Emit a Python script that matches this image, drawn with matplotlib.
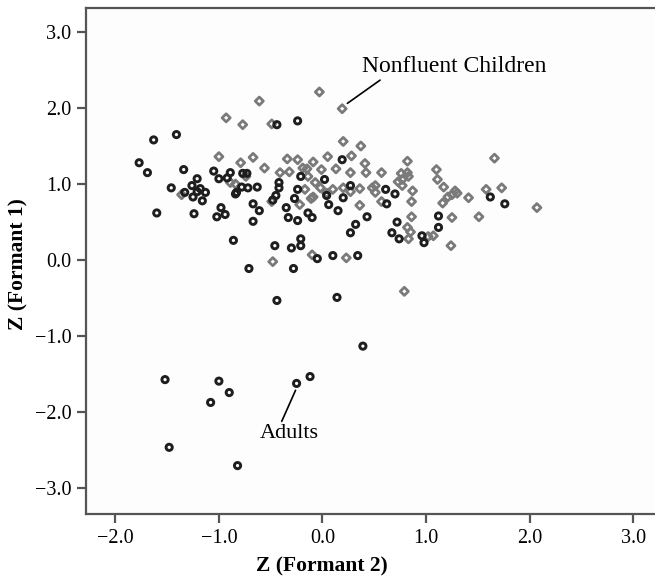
import matplotlib
matplotlib.use("Agg")
import matplotlib.pyplot as plt

# Adults (black circles): Z(Formant 2), Z(Formant 1)
adults_x = [-1.63, -1.41, -1.77, -1.69, -1.34, -1.21, -1.46, -1.26, -1.18, -1.05,
            -0.89, -1.00, -0.92, -0.77, -0.73, -0.83, -0.78, -0.72, -0.63, -1.60,
            -1.24, -1.02, -0.98, -0.94, -0.86, -0.71, -0.67, -0.67, -0.84, -1.33,
            -1.25, -1.16, -1.13, -1.21, -0.61, -0.44, -0.24, -0.21, -0.42, -0.42,
            -0.24, 0.02, 0.27, 0.61, 0.70, 0.04, -0.27, 0.19, -0.35, -0.33,
            -0.24, -0.14, -0.10, 0.06, 0.15, 0.20, 0.62, 0.43, 0.32, 0.27,
            0.72, 0.67, 0.74, -0.46, -0.30, -0.21, -0.21, -0.05, 0.10, 0.34,
            -0.28, -0.44, 0.14, 0.39, -1.52, -1.00, -0.90, -1.08, -0.25, -0.12,
            -1.48, -0.82, 1.62, 1.76, 1.12, 1.12, 0.96, 0.98, -0.48, -0.45]
adults_y = [1.58, 1.65, 1.28, 1.15, 1.19, 1.07, 0.95, 0.98, 0.94, 1.17,
            1.15, 1.07, 1.08, 1.14, 1.14, 0.89, 0.96, 0.95, 0.96, 0.62,
            0.61, 0.57, 0.69, 0.60, 0.26, -0.11, 0.74, 0.51, 0.87, 0.89,
            0.83, 0.78, 0.89, 0.90, 0.65, 1.78, 1.83, 1.10, 1.02, 0.95,
            0.93, 1.06, 0.98, 0.93, 0.87, 0.85, 0.81, 1.32, 0.69, 0.56,
            0.52, 0.62, 0.56, 0.73, 0.65, 0.82, 0.74, 0.57, 0.47, 0.36,
            0.50, 0.36, 0.28, 0.19, 0.16, 0.28, 0.19, 0.02, 0.06, 0.06,
            -0.11, -0.53, -0.49, -1.13, -1.57, -1.59, -1.74, -1.87, -1.62, -1.53,
            -2.46, -2.70, 0.83, 0.74, 0.58, 0.43, 0.32, 0.23, 0.79, 0.85]

# Nonfluent children (gray diamonds)
children_x = [-0.61, -0.93, -0.77, -0.49, -0.03, 0.19, 0.20, 0.37, 1.66, -1.00,
              -0.79, -0.67, -0.74, -0.89, -1.36, -0.34, -0.24, -0.09, 0.05, 0.28,
              0.41, 0.82, -0.56, -0.41, -0.32, -0.19, -0.15, -0.01, 0.13, 0.27,
              0.42, 0.57, 0.76, 0.82, 0.83, 0.77, 1.10, 1.11, 1.17, 1.28,
              1.25, 0.87, 1.58, 1.73, 1.41, 2.07, 1.51, 1.25, 1.24, 0.79,
              0.23, -0.10, -0.48, 0.36, 0.86, 0.85, 1.07, 0.83, 1.16, 1.30,
              0.86, -0.07, 0.36, 0.51, 0.77, -0.22, -0.09, -0.49, 0.82, -0.02,
              0.10, 0.20, 0.27, -0.17, 0.48, 0.51, 0.57, 0.73, 1.02, 1.21,
              -0.84, -0.14, -0.11, 0.04]
children_y = [2.09, 1.87, 1.78, 1.79, 2.21, 1.99, 1.56, 1.50, 1.34, 1.36,
              1.28, 1.35, 1.10, 1.02, 0.86, 1.33, 1.32, 1.29, 1.36, 1.37,
              1.27, 1.30, 1.21, 1.15, 1.16, 1.21, 1.20, 1.19, 1.20, 1.15,
              1.15, 1.15, 1.14, 1.15, 1.10, 1.06, 1.19, 1.06, 0.96, 0.91,
              0.86, 0.91, 0.93, 0.95, 0.82, 0.69, 0.57, 0.56, 0.19, -0.41,
              0.03, 0.07, -0.02, 0.72, 0.57, 0.37, 0.32, 0.28, 0.75, 0.88,
              0.77, 1.02, 0.94, 0.98, 0.98, 0.73, 0.83, 0.77, 0.43, 0.95,
              0.93, 0.95, 0.90, 0.93, 0.95, 0.89, 0.77, 1.03, 0.31, 0.83,
              1.00, 1.10, 0.81, 0.88]

x_ticks = [-2.0, -1.0, 0.0, 1.0, 2.0, 3.0]
y_ticks = [-3.0, -2.0, -1.0, 0.0, 1.0, 2.0, 3.0]

plt.rcParams['font.family'] = ['Liberation Serif', 'DejaVu Serif']

fig = plt.figure(figsize=(6.55, 5.78), dpi=100)
ax = fig.add_axes([86/655, 1-514.3/578, 1-86/655, (514.3-7.5)/578])
ax.set_facecolor('#fdfdfd')

ax.scatter(children_x, children_y, marker='D', s=17, facecolors='none',
           edgecolors='#7a7a7a', linewidths=2.0, zorder=2)
ax.scatter(adults_x, adults_y, marker='o', s=20, facecolors='none',
           edgecolors='#1e1e1e', linewidths=2.1, zorder=3)

ax.set_xlim(-2.283, 3.21)
ax.set_ylim(-3.34, 3.32)
ax.set_xticks(x_ticks)
ax.set_yticks(y_ticks)
ax.set_xticklabels([f"{v:.1f}".replace('-', '\u2212') for v in x_ticks])
ax.set_yticklabels([f"{v:.1f}".replace('-', '\u2212') for v in y_ticks])
ax.tick_params(direction='out', length=6.5, width=1.6, color='#555555',
               labelsize=14.5, pad=4)
for side in ['left', 'bottom', 'top']:
    ax.spines[side].set_color('#555555')
    ax.spines[side].set_linewidth(1.6)
ax.spines['right'].set_visible(False)

fig.text(322/655, 1-566/578, 'Z (Formant 2)', ha='center', va='center',
         fontsize=15.5, fontweight='bold')
fig.text(18/655, 1-264/578, 'Z (Formant 1)', ha='center', va='center',
         fontsize=15.5, fontweight='bold', rotation=90)

ax.annotate('Nonfluent Children', xy=(0.24, 2.06), xytext=(0.38, 2.54),
            fontsize=17, ha='left', va='center',
            arrowprops=dict(arrowstyle='-', color='black', lw=1.2,
                            shrinkA=0, shrinkB=0, relpos=(0.12, 0.0)))
ax.annotate('Adults', xy=(-0.26, -1.71), xytext=(-0.32, -2.28),
            fontsize=16, ha='center', va='center',
            arrowprops=dict(arrowstyle='-', color='black', lw=1.2,
                            shrinkA=0, shrinkB=0, relpos=(0.35, 1.0)))

fig.savefig('out.png', dpi=100)
